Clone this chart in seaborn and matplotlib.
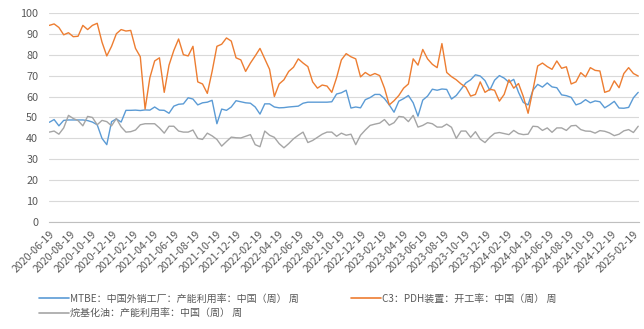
import numpy as np
import pandas as pd
import matplotlib
matplotlib.use("Agg")
import matplotlib.pyplot as plt
from matplotlib.lines import Line2D
import seaborn as sns

# Weekly-survey operating rates (%), sampled every two weeks
start_date = "2020-06-19"
n_points = 124

mtbe = [47.7, 49, 46, 48.6, 48.8, 48.8, 48.8, 48.8, 48.5, 47.8,
        46.5, 40, 37, 48, 49.3, 47.8, 53.4, 53.4, 53.5, 53.3,
        53.6, 53.5, 55, 53.5, 53.4, 52, 55.4, 56.3, 56.5, 59.4,
        58.8, 56, 57, 57.3, 58.2, 47, 54, 53.4, 55, 58,
        57.5, 57, 56.8, 55, 51.6, 56.5, 56.5, 55, 54.6, 54.7,
        55, 55.2, 55.4, 56.8, 57.3, 57.3, 57.3, 57.3, 57.3, 57.5,
        61.2, 61.8, 63, 54.5, 55, 54.6, 58.5, 59.5, 61, 61,
        59, 56, 52.5, 57.8, 59, 60.5, 57, 50.6, 58.3, 60.2,
        63.5, 63, 63.6, 63.4, 58.8, 60.5, 63.5, 66.5, 68, 70.4,
        69.8, 67.6, 63, 67.8, 70, 68.8, 66.8, 68.2, 62, 57.2,
        56, 63, 65.8, 64.5, 66.5, 64.6, 64.2, 60.8, 60.4, 59.6,
        56, 56.8, 58.5, 57, 57.9, 57.5, 54.6, 56, 57.7, 54.5,
        54.4, 54.8, 59.4, 62]

pdh = [94, 94.7, 93, 89.5, 90.5, 88.6, 88.8, 94, 92, 94,
       95, 86, 79.4, 84, 90, 92, 91.3, 91.6, 83, 79,
       54, 69, 77, 78.5, 62, 75, 82, 87.5, 80, 79.4,
       84, 67, 66, 61.5, 72, 84, 85, 88, 86.5, 78.5,
       77.5, 72, 76, 79.4, 83, 78, 73, 60, 66, 68,
       72, 74, 78, 76, 74.3, 67, 64, 65.5, 65, 62,
       69, 77.5, 80.5, 79, 78, 69.4, 71.5, 70, 71, 70,
       64, 56, 58, 60.5, 64, 66, 78, 75, 82.5, 78,
       75.4, 73.8, 85.3, 71.5, 69.5, 68, 66, 64.5, 60.2, 61,
       67, 62, 63.5, 63, 57.8, 61, 68, 64, 66.2, 60,
       52, 63, 74.6, 76, 74.3, 73, 77, 73.5, 74.2, 66,
       67, 71.4, 69.4, 73.8, 72.5, 72.2, 62, 62.8, 67.5, 64.2,
       71, 73.8, 71, 69.8]

alkylate = [43, 43.5, 42, 45, 51, 49.5, 48.5, 46, 50.5, 50,
            46.5, 48.6, 48, 46, 49.5, 45.5, 43, 43.2, 44, 46.5,
            47, 47, 47, 45, 42.5, 45.8, 45.8, 43.5, 43, 43,
            44, 40, 39.5, 42.5, 41.2, 39.5, 36.3, 38.5, 40.6, 40.3,
            40.2, 41, 41.8, 37, 36, 43.5, 41.5, 40.5, 37.5, 35.5,
            37.5, 39.8, 41.5, 43, 38, 39, 40.5, 42, 43, 43,
            41, 42.5, 41.5, 42, 37, 41.5, 44, 46.2, 46.8, 47.3,
            49, 46.3, 47.5, 50.5, 50.2, 48, 51, 45.4, 46.2, 47.5,
            47, 45.4, 45.4, 46.8, 45.3, 40, 43.5, 43.5, 40.5, 43.2,
            39.6, 38, 40.5, 42.4, 42.8, 42.3, 41.8, 43.8, 42.3, 41.8,
            42, 45.8, 45.6, 43.8, 45, 42.9, 45, 45, 43.8, 46,
            46.2, 44.2, 43.5, 43.4, 42.5, 43.7, 43.4, 42.6, 41.3, 42,
            43.6, 44.2, 42.8, 45.8]

series_names = ["MTBE：中国外销工厂：产能利用率：中国（周） 周",
                "C3：PDH装置：开工率：中国（周） 周",
                "烷基化油：产能利用率：中国（周） 周"]
series_colors = ["#5B9BD5", "#ED7D31", "#A5A5A5"]

dates = pd.date_range(start_date, periods=n_points, freq="14D")
df = pd.DataFrame({"date": dates, series_names[0]: mtbe,
                   series_names[1]: pdh, series_names[2]: alkylate})
long_df = df.melt(id_vars="date", var_name="series", value_name="value")

sns.set_theme(style="white")
plt.rcParams["font.family"] = ["Noto Sans CJK SC", "DejaVu Sans"]

fig = plt.figure(figsize=(6.44, 3.29), dpi=100)
ax = fig.add_axes([0.0766, 0.325, 0.916, 0.636])

sns.lineplot(data=long_df, x="date", y="value", hue="series",
             hue_order=series_names, palette=dict(zip(series_names, series_colors)),
             linewidth=1.0, legend=False, ax=ax)

# axes styling
text_color = "#595959"
ax.set_ylim(0, 100)
ax.set_yticks(np.arange(0, 101, 10))
ax.set_xlim(pd.Timestamp("2020-06-19"), pd.Timestamp("2025-03-10"))
tick_dates = [pd.Timestamp("2020-06-19") + pd.DateOffset(months=2 * k) for k in range(29)]
ax.set_xticks(tick_dates)
ax.set_xticklabels([d.strftime("%Y-%m-%d") for d in tick_dates],
                   rotation=45, ha="right", rotation_mode="anchor",
                   fontsize=7.6, color=text_color)
ax.tick_params(axis="y", length=0, pad=8, labelsize=7.8, labelcolor=text_color)
ax.tick_params(axis="x", length=3, width=0.8, color="#bfbfbf", pad=2)
ax.set_xlabel("")
ax.set_ylabel("")
ax.yaxis.grid(True, color="#d9d9d9", linewidth=0.8)
ax.xaxis.grid(False)
for side in ["left", "right", "top"]:
    ax.spines[side].set_visible(False)
ax.spines["bottom"].set_color("#bfbfbf")
ax.spines["bottom"].set_linewidth(0.8)

# legend: two columns, column-major order puts 烷基化油 on the second row
handles = [Line2D([0], [0], color=c, lw=1.2) for c in series_colors]
order = [0, 2, 1]
fig.legend([handles[i] for i in order], [series_names[i] for i in order],
           loc="upper left", bbox_to_anchor=(0.06, 0.107), ncol=2,
           frameon=False, fontsize=7.2, labelcolor=text_color,
           handlelength=3.0, handletextpad=0.1, columnspacing=5.2,
           labelspacing=0.45, borderaxespad=0.0, borderpad=0.0)

fig.savefig("out.png", dpi=100)
